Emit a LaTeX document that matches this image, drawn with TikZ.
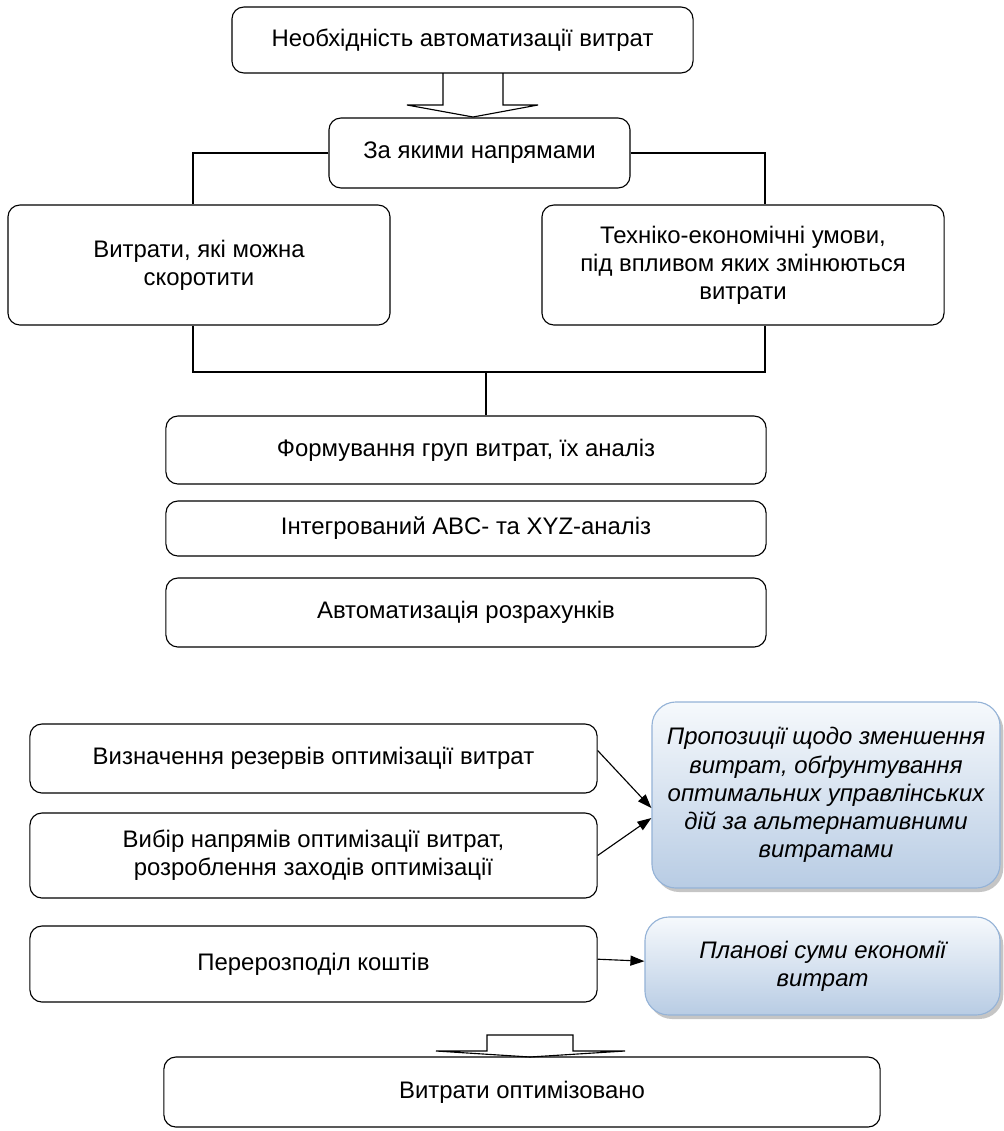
\documentclass[tikz,border=0pt]{standalone}
\usepackage{fontspec}
\setmainfont{Liberation Sans}
\usetikzlibrary{positioning,shadows,arrows.meta}
\definecolor{blueedge}{HTML}{95B3D7}
\definecolor{bluetop}{HTML}{F6F9FC}
\definecolor{bluebot}{HTML}{B8CCE4}
\begin{document}
\begin{tikzpicture}[x=0.025cm,y=-0.025cm,line width=0.8pt,
	every node/.style={font=\fontsize{17}{20}\selectfont,align=center,inner sep=0pt},
	box/.style={draw,rounded corners=0.3cm},
	note/.style={draw=blueedge,rounded corners=0.6cm,top color=bluetop,bottom color=bluebot,
		font=\fontsize{17}{20}\selectfont\itshape,
		drop shadow={shadow xshift=0.08cm,shadow yshift=-0.1cm,fill=black!45}},
	link/.style={-{Triangle[length=0.35cm,width=0.25cm]}}]
\useasboundingbox (0,0) rectangle (1004,1131);
% upper part
\node[box,minimum width=11.525cm,minimum height=1.65cm] (nec) at (462.5,40) {Необхідність автоматизації витрат};
\node[box,minimum width=7.525cm,minimum height=1.75cm] (dir) at (479.5,153) {За якими напрямами};
\node[box,minimum width=9.55cm,minimum height=3cm] (cut) at (199,265) {Витрати, які можна\\скоротити};
\node[box,minimum width=10.05cm,minimum height=3cm] (cond) at (743,265) {Техніко-економічні умови,\\під впливом яких змінюються\\витрати};
\node[box,minimum width=15cm,minimum height=1.7cm] (grp) at (466,450) {Формування груп витрат, їх аналіз};
\node[box,minimum width=15cm,minimum height=1.375cm] (abc) at (466,528.5) {Інтегрований ABC- та XYZ-аналіз};
\node[box,minimum width=15cm,minimum height=1.725cm] (calc) at (466,612.5) {Автоматизація розрахунків};
% lower part
\node[box,minimum width=14.175cm,minimum height=1.725cm] (res) at (313.5,758.5) {Визначення резервів оптимізації витрат};
\node[box,minimum width=14.175cm,minimum height=2.125cm] (sel) at (313.5,855.5) {Вибір напрямів оптимізації витрат,\\розроблення заходів оптимізації};
\node[box,minimum width=14.175cm,minimum height=1.9cm] (re) at (313.5,964) {Перерозподіл коштів};
\node[note,minimum width=8.7cm,minimum height=4.65cm] (prop) at (826,795) {Пропозиції щодо зменшення\\витрат, обґрунтування\\оптимальних управлінських\\дій за альтернативними\\витратами};
\node[note,minimum width=8.875cm,minimum height=2.45cm] (plan) at (822.5,966) {Планові суми економії\\витрат};
\node[box,minimum width=17.9cm,minimum height=1.75cm] (done) at (522,1092) {Витрати оптимізовано};
\coordinate (jn) at (486,372);
% connectors
\draw (dir.west) -| ([xshift=-0.15cm]cut.north);
\draw (dir.east) -| ([xshift=0.55cm]cond.north);
\draw ([xshift=-0.15cm]cut.south) |- (jn) -| ([xshift=0.55cm]cond.south);
\draw (jn) -- (jn |- grp.north);
\draw[link] ([yshift=0.2cm]res.east) -- ([yshift=-0.325cm]prop.west);
\draw[link] (sel.east) -- ([yshift=-0.575cm]prop.west);
\draw[link] ([yshift=0.12cm]re.east) -- ([yshift=0.12cm]plan.west);
% block arrows
\draw (443,73) -- (443,105) -- (407,105) -- (473,117) -- (538,105) -- (503,105) -- (503,73);
\draw (436,1051) -- (487,1051) -- (487,1035) -- (573,1035) -- (573,1051) -- (625,1051) -- (530,1057) -- cycle;
\end{tikzpicture}
\end{document}
